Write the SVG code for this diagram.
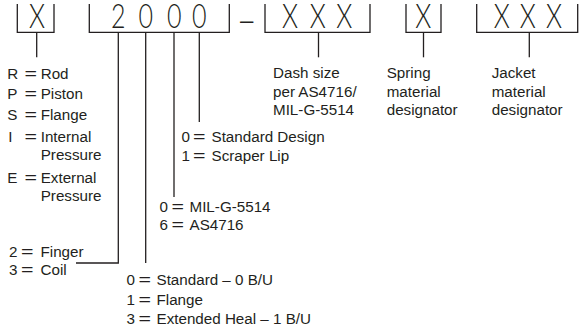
<svg xmlns="http://www.w3.org/2000/svg" width="582" height="333" viewBox="0 0 582 333">
<style>
  .br { fill: none; stroke: #231f20; stroke-width: 1.3; }
  .cn { fill: none; stroke: #231f20; stroke-width: 1.3; }
  .big { font-family: Lato, "Liberation Sans", sans-serif; font-weight: 300; font-size: 33px; fill: #231f20; text-anchor: middle; }
  .t { font-family: "Liberation Sans", Arial, sans-serif; font-size: 15.2px; fill: #231f20; }
  .eq { font-family: "Liberation Sans", Arial, sans-serif; font-size: 15.2px; fill: #231f20; }
  .dash { font-family: "Liberation Sans", sans-serif; font-size: 24px; fill: #231f20; text-anchor: middle; }
</style>
<rect width="582" height="333" fill="#ffffff"/>

<g id="seg-type">
  <polyline class="br" points="17.3,4 17.3,32.3 54,32.3 54,4"/>
  <text class="big" transform="translate(37 28.3) scale(0.78 1)">X</text>
</g>
<g id="seg-series">
  <polyline class="br" points="89.3,4 89.3,32.3 229.3,32.3 229.3,4"/>
  <text class="big" transform="translate(118.3 28.3) scale(0.76 1)">2</text>
  <text class="big" transform="translate(145.8 28.3) scale(0.76 1)">0</text>
  <text class="big" transform="translate(174.2 28.3) scale(0.76 1)">0</text>
  <text class="big" transform="translate(199.2 28.3) scale(0.76 1)">0</text>
</g>
<g id="separator">
  <text class="dash" x="246.7" y="28.3">–</text>
</g>
<g id="seg-dash-size">
  <polyline class="br" points="265,4 265,32.3 370,32.3 370,4"/>
  <text class="big" transform="translate(290 28.3) scale(0.78 1)">X</text>
  <text class="big" transform="translate(317.7 28.3) scale(0.78 1)">X</text>
  <text class="big" transform="translate(344.3 28.3) scale(0.78 1)">X</text>
</g>
<g id="seg-spring">
  <polyline class="br" points="406,4 406,32.3 441,32.3 441,4"/>
  <text class="big" transform="translate(423.3 28.3) scale(0.78 1)">X</text>
</g>
<g id="seg-jacket">
  <polyline class="br" points="476.7,4 476.7,32.3 577.7,32.3 577.7,4"/>
  <text class="big" transform="translate(501.7 28.3) scale(0.78 1)">X</text>
  <text class="big" transform="translate(527.7 28.3) scale(0.78 1)">X</text>
  <text class="big" transform="translate(554 28.3) scale(0.78 1)">X</text>
</g>

<g id="connectors">
  <line class="cn" x1="36.7" y1="32.3" x2="36.7" y2="57.3"/>
  <polyline class="cn" points="118.3,32.3 118.3,263 76,263"/>
  <line class="cn" x1="145.7" y1="32.3" x2="145.7" y2="263"/>
  <line class="cn" x1="174" y1="32.3" x2="174" y2="197"/>
  <line class="cn" x1="199.3" y1="32.3" x2="199.3" y2="122"/>
  <line class="cn" x1="318.5" y1="32.3" x2="318.5" y2="57.3"/>
  <line class="cn" x1="423.5" y1="32.3" x2="423.5" y2="57.3"/>
  <line class="cn" x1="529.3" y1="32.3" x2="529.3" y2="57.3"/>
</g>

<g id="lbl-seal-type">
  <text class="t" x="7.3" y="79">R</text><text class="eq" x="24.5" y="79" textLength="12.5" lengthAdjust="spacingAndGlyphs">=</text><text class="t" x="40.7" y="79">Rod</text>
  <text class="t" x="7.3" y="99">P</text><text class="eq" x="24.5" y="99" textLength="12.5" lengthAdjust="spacingAndGlyphs">=</text><text class="t" x="40.7" y="99">Piston</text>
  <text class="t" x="7.3" y="120">S</text><text class="eq" x="24.5" y="120" textLength="12.5" lengthAdjust="spacingAndGlyphs">=</text><text class="t" x="40.7" y="120">Flange</text>
  <text class="t" x="8.3" y="142">I</text><text class="eq" x="24.5" y="142" textLength="12.5" lengthAdjust="spacingAndGlyphs">=</text><text class="t" x="40.7" y="142">Internal</text>
  <text class="t" x="40.7" y="160">Pressure</text>
  <text class="t" x="7.3" y="183">E</text><text class="eq" x="24.5" y="183" textLength="12.5" lengthAdjust="spacingAndGlyphs">=</text><text class="t" x="40.7" y="183">External</text>
  <text class="t" x="40.7" y="201">Pressure</text>
</g>

<g id="lbl-spring-type">
  <text class="t" x="9" y="256.7">2</text><text class="eq" x="21" y="256.7" textLength="12.5" lengthAdjust="spacingAndGlyphs">=</text><text class="t" x="40.5" y="256.7">Finger</text>
  <text class="t" x="9" y="275">3</text><text class="eq" x="21" y="275" textLength="12.5" lengthAdjust="spacingAndGlyphs">=</text><text class="t" x="40.5" y="275">Coil</text>
</g>

<g id="lbl-configuration">
  <text class="t" x="126.5" y="285">0</text><text class="eq" x="138.5" y="285" textLength="12.5" lengthAdjust="spacingAndGlyphs">=</text><text class="t" x="156.5" y="285">Standard – 0 B/U</text>
  <text class="t" x="126.5" y="304.5">1</text><text class="eq" x="138.5" y="304.5" textLength="12.5" lengthAdjust="spacingAndGlyphs">=</text><text class="t" x="156.5" y="304.5">Flange</text>
  <text class="t" x="126.5" y="324">3</text><text class="eq" x="138.5" y="324" textLength="12.5" lengthAdjust="spacingAndGlyphs">=</text><text class="t" x="156.5" y="324">Extended Heal – 1 B/U</text>
</g>

<g id="lbl-specification">
  <text class="t" x="159.5" y="211.7">0</text><text class="eq" x="171.5" y="211.7" textLength="12.5" lengthAdjust="spacingAndGlyphs">=</text><text class="t" x="189.5" y="211.7">MIL-G-5514</text>
  <text class="t" x="159.5" y="229.7">6</text><text class="eq" x="171.5" y="229.7" textLength="12.5" lengthAdjust="spacingAndGlyphs">=</text><text class="t" x="189.5" y="229.7">AS4716</text>
</g>

<g id="lbl-lip">
  <text class="t" x="181.5" y="141.7">0</text><text class="eq" x="193" y="141.7" textLength="12.5" lengthAdjust="spacingAndGlyphs">=</text><text class="t" x="211.5" y="141.7">Standard Design</text>
  <text class="t" x="181.5" y="160.5">1</text><text class="eq" x="193" y="160.5" textLength="12.5" lengthAdjust="spacingAndGlyphs">=</text><text class="t" x="211.5" y="160.5">Scraper Lip</text>
</g>

<g id="lbl-dash-size">
  <text class="t" x="273" y="78.3">Dash size</text>
  <text class="t" x="273" y="96.7">per AS4716/</text>
  <text class="t" x="273" y="115">MIL-G-5514</text>
</g>
<g id="lbl-spring-material">
  <text class="t" x="386.7" y="78.3">Spring</text>
  <text class="t" x="386.7" y="96.7">material</text>
  <text class="t" x="386.7" y="115">designator</text>
</g>
<g id="lbl-jacket-material">
  <text class="t" x="491.7" y="78.3">Jacket</text>
  <text class="t" x="491.7" y="96.7">material</text>
  <text class="t" x="491.7" y="115">designator</text>
</g>
</svg>
